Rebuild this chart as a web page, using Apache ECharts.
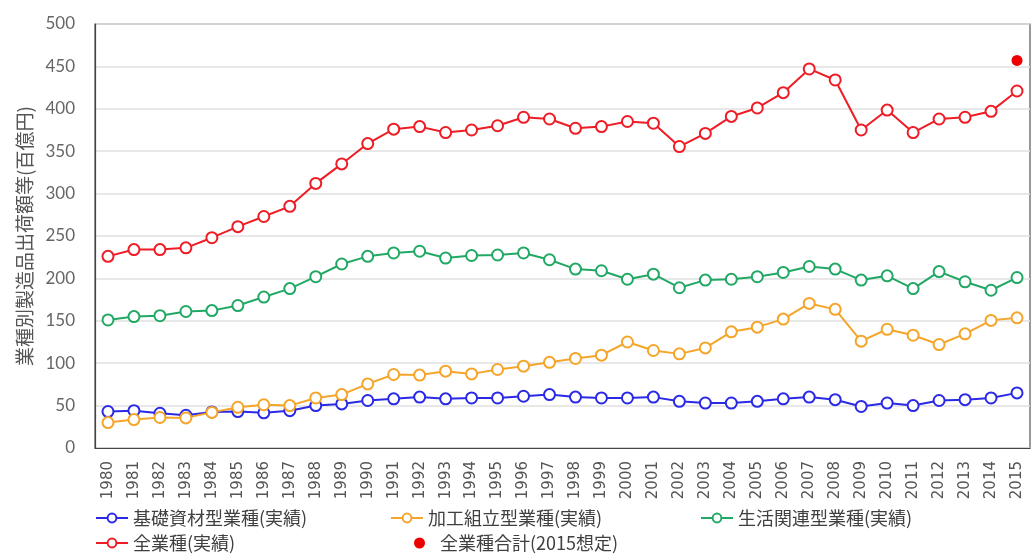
<!DOCTYPE html>
<html><head><meta charset="utf-8">
<script src="https://cdn.jsdelivr.net/npm/echarts@6/dist/echarts.min.js"></script>
<style>html,body{margin:0;padding:0;background:#fff}#c{width:1034px;height:556px}</style>
</head><body><div id="c"></div>
<script>
const years = ['1980','1981','1982','1983','1984','1985','1986','1987','1988','1989','1990','1991','1992','1993','1994','1995','1996','1997','1998','1999','2000','2001','2002','2003','2004','2005','2006','2007','2008','2009','2010','2011','2012','2013','2014','2015'];
const basic = [43,44,41,38.6,42.5,43,41.5,44,50,52,56,58,60,58,59,59,61,63,60,59,59,60,55,53,53,55,58,60,57,49,53,50,56,57,59,65];
const assembly = [30,33.5,36,35.5,42,48,51,50,59,63,75.6,86.7,86,90.6,87.4,92.6,96.5,101,105.6,109.5,125,115,111,118,137,142.5,152,170.5,163.5,126,140,133,122,134.6,150.5,153.5];
const living = [151,155,156,161,162,168,178,188,202,217,226,230,232,224,227,227.6,230,222,211,209,199,205,189,198,199,202,207,214,211,198,203,188,208,196,186,201];
const total = [226,234,234,236,248,261,273,285,312,335,359,376,379,372,375,380,390,388,377,379,385,383,355.5,371,391,401,419,447,434,375,398.5,372,388,390,397,421];
const projected2015 = 457;
const names = ['基礎資材型業種(実績)','加工組立型業種(実績)','生活関連型業種(実績)','全業種(実績)','全業種合計(2015想定)'];
const colors = ['#2a2ae6','#f5a52a','#22a865','#ee1c25','#ee0000'];

const projData = years.map((y,i)=> i===years.length-1 ? projected2015 : null);
const font = '"Noto Sans CJK JP", "Noto Sans", sans-serif';
function lineSeries(name, data, color){
  return {name, type:'line', data, symbol:'emptyCircle', symbolSize:11,
    lineStyle:{color, width:2}, itemStyle:{color, borderWidth:1.5}, z:3};
}
const legendPos = [[92,506],[387,506],[697,506],[92,531],[411,531]];
const legends = names.map((n,i)=>({
  data:[i===4?{name:n, icon:'circle'}:n], left:legendPos[i][0], top:legendPos[i][1],
  itemWidth:i===4?11:32, itemHeight:i===4?11:11, itemGap:8, padding:[3,3,3,3],
  textStyle:{fontFamily:font, fontSize:18, color:'#404040', padding:[0,0,0,i===4?10:0]}
}));
const chart = echarts.init(document.getElementById('c'), null, {renderer:'canvas'});
chart.setOption({
  animation:false,
  backgroundColor:'#fff',
  grid:{left:95, right:4, top:24, bottom:108, show:true, borderColor:'#555', borderWidth:1.2},
  legend:legends,
  xAxis:{type:'category', data:years, boundaryGap:true,
    axisLine:{lineStyle:{color:'#444', width:1.2}},
    axisTick:{inside:true, length:6, lineStyle:{color:'#444'}},
    axisLabel:{rotate:90, fontSize:15, color:'#555', fontFamily:'"DejaVu Sans", sans-serif', margin:13, interval:0},
    splitLine:{show:false}},
  yAxis:{type:'value', min:0, max:500, interval:50,
    name:'業種別製造品出荷額等(百億円)', nameLocation:'middle', nameRotate:90, nameGap:60,
    nameTextStyle:{fontSize:19, color:'#555', fontFamily:font},
    axisLine:{show:true, lineStyle:{color:'#444', width:1.2}},
    axisTick:{show:false},
    axisLabel:{fontSize:17, color:'#666', fontFamily:'Lato, sans-serif', margin:20},
    splitLine:{lineStyle:{color:'#e0e0e0', width:1.5}}},
  series:[
    lineSeries(names[0], basic, colors[0]),
    lineSeries(names[1], assembly, colors[1]),
    lineSeries(names[2], living, colors[2]),
    lineSeries(names[3], total, colors[3]),
    {name:names[4], type:'line', data:projData, symbol:'circle', symbolSize:11,
      lineStyle:{width:0}, itemStyle:{color:colors[4]}, z:4}
  ]
});
</script></body></html>
